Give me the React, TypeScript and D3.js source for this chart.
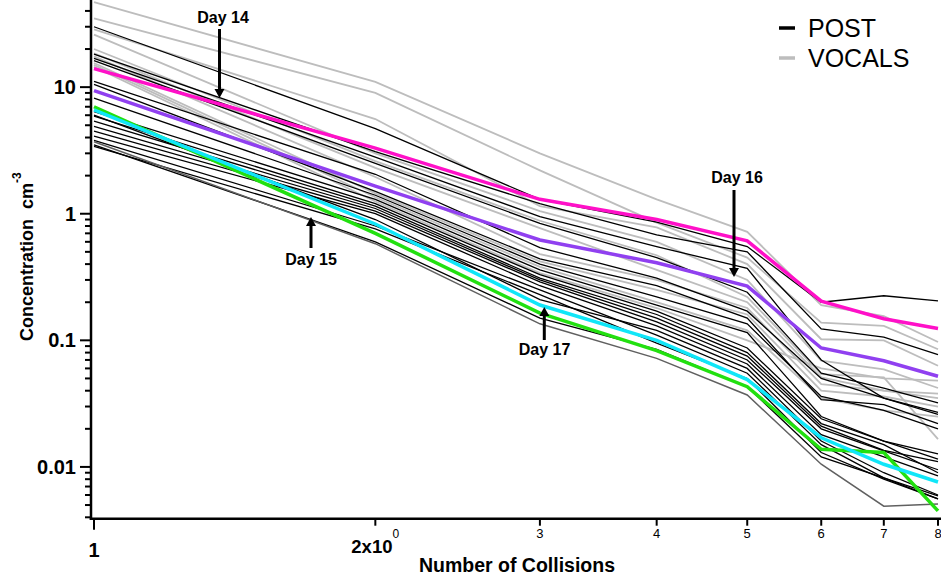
import React from "react";
import * as d3 from "d3";

const collisions = [1, 2, 3, 4, 5, 6, 7, 8];

const postSeries: number[][] = [
  [30, 4.7, 1.3, 0.86, 0.55, 0.2, 0.225, 0.205],
  [18.2, 3.1, 1.2, 0.68, 0.5, 0.123, 0.106, 0.077],
  [16.9, 2.8, 0.95, 0.55, 0.37, 0.07, 0.035, 0.027],
  [16.2, 2.5, 0.84, 0.45, 0.24, 0.055, 0.042, 0.032],
  [11.1, 2.05, 0.54, 0.31, 0.17, 0.05, 0.035, 0.026],
  [10.5, 1.5, 0.44, 0.27, 0.15, 0.034, 0.031, 0.022],
  [8.2, 1.4, 0.4, 0.22, 0.135, 0.036, 0.028, 0.02],
  [6.4, 1.3, 0.36, 0.19, 0.115, 0.025, 0.016, 0.0127],
  [6.0, 0.9, 0.21, 0.12, 0.06, 0.016, 0.009, 0.006],
  [5.9, 1.2, 0.33, 0.17, 0.087, 0.024, 0.016, 0.0115],
  [5.4, 1.15, 0.31, 0.16, 0.08, 0.022, 0.015, 0.009],
  [4.9, 1.1, 0.3, 0.15, 0.075, 0.021, 0.0135, 0.011],
  [4.5, 1.05, 0.29, 0.14, 0.07, 0.02, 0.0134, 0.0095],
  [4.1, 1.0, 0.27, 0.13, 0.065, 0.018, 0.012, 0.0085],
  [3.8, 0.8, 0.25, 0.11, 0.055, 0.015, 0.0082, 0.0059],
  [3.4, 0.76, 0.23, 0.095, 0.05, 0.013, 0.008, 0.0056],
  [3.5, 0.6, 0.15, 0.085, 0.043, 0.012, 0.0082, 0.0056],
];
const postDarkSeries: number[] = [3.7, 0.58, 0.135, 0.072, 0.037, 0.0105, 0.0049, 0.0051];

const vocalsSeries: number[][] = [
  [47, 11, 3.0, 1.3, 0.72, 0.19, 0.155, 0.097],
  [35, 9, 2.2, 0.85, 0.45, 0.138, 0.13, 0.085],
  [28.6, 5.6, 1.15, 0.78, 0.4, 0.102, 0.1, 0.063],
  [26, 3.0, 1.05, 0.6, 0.3, 0.069, 0.059, 0.042],
  [20, 2.6, 0.88, 0.47, 0.22, 0.054, 0.051, 0.0166],
  [18.5, 2.3, 0.77, 0.36, 0.2, 0.051, 0.04, 0.035],
  [17.5, 1.95, 0.48, 0.3, 0.18, 0.045, 0.04, 0.038],
  [15.5, 1.45, 0.42, 0.25, 0.16, 0.04, 0.036, 0.03],
  [15, 1.35, 0.38, 0.2, 0.12, 0.035, 0.028, 0.025],
  [14.5, 1.25, 0.34, 0.18, 0.1, 0.06, 0.05, 0.048],
];

const day14 = [14, 3.3, 1.3, 0.9, 0.61, 0.204, 0.148, 0.124];
const day15 = [7.0, 0.7, 0.164, 0.083, 0.043, 0.0138, 0.013, 0.0045];
const day16 = [9.4, 1.65, 0.62, 0.41, 0.268, 0.087, 0.069, 0.052];
const day17 = [6.6, 0.83, 0.19, 0.1, 0.049, 0.017, 0.0105, 0.0076];

const yMajor = [10, 1, 0.1, 0.01];
const yMajorLabels = ["10", "1", "0.1", "0.01"];
const legendLabels = ["POST", "VOCALS"];

const FONT = "'Liberation Sans', Arial, sans-serif";

export default function App() {
  const W = 941, H = 577;
  const x = d3.scaleLog().domain([1, 8]).range([94, 938]);
  const y = d3.scaleLog().domain([0.004, 48]).range([517.3, 0.9]);
  const line = d3
    .line<number>()
    .x((_, i) => x(collisions[i]))
    .y((d) => y(d));

  const yTicks = y.ticks().filter((t) => t <= 48 && t >= 0.004);
  const isMajor = (t: number) => yMajor.some((m) => Math.abs(m - t) / m < 1e-6);
  const xTicks = x.ticks();
  const axisX = 91;
  const axisY = 518.7;

  const arrow = (xx: number, y0: number, y1: number, key: string) => {
    const dir = y1 > y0 ? 1 : -1;
    const head = 9;
    return (
      <g key={key}>
        <line x1={xx} x2={xx} y1={y0} y2={y1 - dir * head} stroke="#000" strokeWidth={3} />
        <polygon
          points={`${xx - 5},${y1 - dir * head} ${xx + 5},${y1 - dir * head} ${xx},${y1}`}
          fill="#000"
        />
      </g>
    );
  };

  return (
    <svg
      width={W}
      height={H}
      style={{ position: "absolute", left: 0, top: 0, background: "#fff" }}
      fontFamily={FONT}
    >
      <rect width={W} height={H} fill="#fff" />
      {vocalsSeries.map((s, i) => (
        <path key={"v" + i} d={line(s) || ""} fill="none" stroke="#bdbdbd" strokeWidth={1.8} />
      ))}
      {postSeries.map((s, i) => (
        <path key={"p" + i} d={line(s) || ""} fill="none" stroke="#000" strokeWidth={1.3} />
      ))}
      <path d={line(postDarkSeries) || ""} fill="none" stroke="#606060" strokeWidth={1.5} />
      <path d={line(day14) || ""} fill="none" stroke="#ff10c8" strokeWidth={3.5} />
      <path d={line(day16) || ""} fill="none" stroke="#9040f0" strokeWidth={3.5} />
      <path d={line(day15) || ""} fill="none" stroke="#22e010" strokeWidth={3.5} />
      <path d={line(day17) || ""} fill="none" stroke="#10e6f8" strokeWidth={3.5} />

      <line x1={axisX} x2={axisX} y1={0} y2={axisY + 1.2} stroke="#000" strokeWidth={2.5} />
      <line x1={axisX - 1.2} x2={941} y1={axisY} y2={axisY} stroke="#000" strokeWidth={2.5} />
      {yTicks.map((t, i) => (
        <line
          key={"yt" + i}
          x1={axisX - (isMajor(t) ? 11 : 6)}
          x2={axisX}
          y1={y(t)}
          y2={y(t)}
          stroke="#000"
          strokeWidth={2}
        />
      ))}
      {yMajor.map((t, i) => (
        <text
          key={"yl" + i}
          x={76}
          y={y(t) + 7}
          textAnchor="end"
          fontSize={20}
          fontWeight="bold"
        >
          {yMajorLabels[i]}
        </text>
      ))}
      {xTicks.map((t, i) => (
        <line
          key={"xt" + i}
          x1={x(t)}
          x2={x(t)}
          y1={axisY}
          y2={axisY + (t === 1 ? 11 : 7)}
          stroke="#000"
          strokeWidth={2}
        />
      ))}
      {xTicks.map((t, i) => {
        if (t === 1)
          return (
            <text key={"xl" + i} x={x(t)} y={557} textAnchor="middle" fontSize={20} fontWeight="bold">
              1
            </text>
          );
        if (t === 2)
          return (
            <text key={"xl" + i} x={x(t) - 24} y={553} fontSize={18.5} fontWeight="bold">
              2x10
              <tspan dy={-15} fontSize={12} fontWeight="normal">
                0
              </tspan>
            </text>
          );
        return (
          <text key={"xl" + i} x={x(t)} y={538} textAnchor="middle" fontSize={13}>
            {String(t)}
          </text>
        );
      })}
      <text x={517} y={572} textAnchor="middle" fontSize={19.5} fontWeight="bold">
        Number of Collisions
      </text>
      <text transform="translate(33,341) rotate(-90)" fontSize={18} fontWeight="bold" xmlSpace="preserve">
        {"Concentration  cm"}
        <tspan dy={-12} fontSize={12}>
          -3
        </tspan>
      </text>

      {legendLabels.map((lab, i) => (
        <g key={"lg" + i}>
          <line
            x1={779}
            x2={795}
            y1={28 + i * 30}
            y2={28 + i * 30}
            stroke={i === 0 ? "#000" : "#bdbdbd"}
            strokeWidth={3.5}
          />
          <text x={808} y={37 + i * 30} fontSize={25}>
            {lab}
          </text>
        </g>
      ))}

      <text x={223} y={23} textAnchor="middle" fontSize={16} fontWeight="bold">
        Day 14
      </text>
      {arrow(219.5, 29, 98, "a14")}
      <text x={311} y={265} textAnchor="middle" fontSize={16} fontWeight="bold">
        Day 15
      </text>
      {arrow(311, 248, 217, "a15")}
      <text x={737} y={183} textAnchor="middle" fontSize={16} fontWeight="bold">
        Day 16
      </text>
      {arrow(734, 190, 277, "a16")}
      <text x={544.5} y={355} textAnchor="middle" fontSize={16} fontWeight="bold">
        Day 17
      </text>
      {arrow(544.3, 340, 307, "a17")}
    </svg>
  );
}
